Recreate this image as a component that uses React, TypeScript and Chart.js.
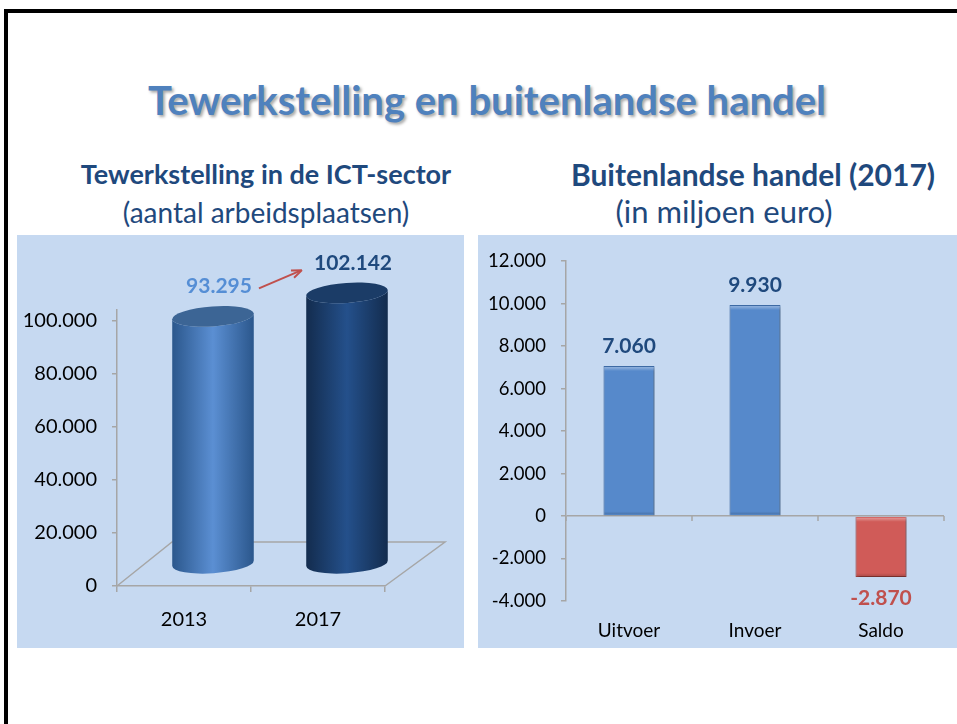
import React, { useEffect, useRef } from "react";
import { Chart, registerables } from "chart.js";

Chart.register(...registerables);

const FONT = "Lato, 'Open Sans', sans-serif";

// ---- data: left chart (employment in ICT sector) ----
const jobYears = ["2013", "2017"];
const jobValues = [93295, 102142];
const jobTicks = [0, 20000, 40000, 60000, 80000, 100000];
const jobLabelColors = ["#558ED5", "#1F497D"];

// ---- data: right chart (foreign trade 2017, million euro) ----
const tradeCategories = ["Uitvoer", "Invoer", "Saldo"];
const tradeValues = [7060, 9930, -2870];
const tradeTicks = [-4000, -2000, 0, 2000, 4000, 6000, 8000, 10000, 12000];

const GRAY = "#A6A6A6";
const PANEL = "#C6D9F1";

function fmt(n: number): string {
  const s = Math.abs(Math.round(n))
    .toString()
    .replace(/\B(?=(\d{3})+(?!\d))/g, ".");
  return (n < 0 ? "-" : "") + s;
}

function LeftChart() {
  const ref = useRef<HTMLCanvasElement | null>(null);
  useEffect(() => {
    const canvas = ref.current!;
    const DXM = 29;
    const DYM = -22;
    const cylPlugin = {
      id: "cyl",
      beforeDatasetsDraw(chart: any) {
        const ctx = chart.ctx;
        const xs = chart.scales.x;
        const ys = chart.scales.y;
        const base = ys.getPixelForValue(0);
        ctx.save();
        ctx.strokeStyle = GRAY;
        ctx.lineWidth = 1.5;
        ctx.beginPath();
        ctx.moveTo(xs.left, base);
        ctx.lineTo(xs.left + 55, base - 44);
        ctx.lineTo(xs.right + 60, base - 44);
        ctx.lineTo(xs.right, base);
        ctx.stroke();
        ctx.restore();
      },
      afterDatasetsDraw(chart: any) {
        const ctx = chart.ctx;
        const meta = chart.getDatasetMeta(0);
        const bodies = [
          { edge: "#2B578C", mid: "#5B8FD3", top: "#3C6595" },
          { edge: "#132C4E", mid: "#24508B", top: "#1B3C67" },
        ];
        const tops: { x: number; y: number }[] = [];
        meta.data.forEach((bar: any, i: number) => {
          const p = bar.getProps(["x", "y", "base", "width"], true);
          const cx = p.x + DXM;
          const rx = p.width / 2;
          const ry = 10;
          const top = p.y + DYM;
          const bot = p.base + DYM;
          const rot = -0.07;
          const c = bodies[i];
          ctx.save();
          const g = ctx.createLinearGradient(cx - rx, 0, cx + rx, 0);
          g.addColorStop(0, c.edge);
          g.addColorStop(0.5, c.mid);
          g.addColorStop(1, c.edge);
          ctx.fillStyle = g;
          ctx.beginPath();
          ctx.ellipse(cx, bot, rx, ry, rot, Math.PI, 0, true);
          ctx.ellipse(cx, top, rx, ry, rot, 0, Math.PI, false);
          ctx.closePath();
          ctx.fill();
          ctx.fillStyle = c.top;
          ctx.beginPath();
          ctx.ellipse(cx, top, rx, ry, rot, 0, Math.PI * 2);
          ctx.fill();
          ctx.restore();
          tops.push({ x: cx, y: top });
        });
        // value labels
        ctx.save();
        ctx.font = `bold 21px ${FONT}`;
        ctx.textAlign = "center";
        ctx.textBaseline = "middle";
        const boxes: { l: number; r: number; y: number }[] = [];
        tops.forEach((t, i) => {
          const txt = fmt(jobValues[i]);
          const lx = t.x + 6;
          const ly = t.y - 30;
          ctx.fillStyle = jobLabelColors[i];
          ctx.fillText(txt, lx, ly);
          const w = ctx.measureText(txt).width;
          boxes.push({ l: lx - w / 2, r: lx + w / 2, y: ly });
        });
        // arrow from first label to second
        if (boxes.length === 2) {
          const x1 = boxes[0].r + 7;
          const y1 = boxes[0].y + 2;
          const x2 = boxes[1].l - 14;
          const y2 = boxes[1].y + 8;
          ctx.strokeStyle = "#C0504D";
          ctx.lineWidth = 2;
          ctx.beginPath();
          ctx.moveTo(x1, y1);
          ctx.lineTo(x2, y2);
          ctx.stroke();
          const ang = Math.atan2(y2 - y1, x2 - x1);
          ctx.beginPath();
          ctx.moveTo(x2 + 2, y2 - 0.8);
          ctx.lineTo(x2 - 9 * Math.cos(ang - 0.45), y2 - 9 * Math.sin(ang - 0.45));
          ctx.moveTo(x2 + 2, y2 - 0.8);
          ctx.lineTo(x2 - 9 * Math.cos(ang + 0.45), y2 - 9 * Math.sin(ang + 0.45));
          ctx.stroke();
        }
        ctx.restore();
      },
    };
    const chart = new Chart(canvas, {
      type: "bar",
      data: {
        labels: jobYears,
        datasets: [
          {
            data: jobValues,
            backgroundColor: "rgba(0,0,0,0)",
            borderWidth: 0,
            barPercentage: 0.61,
            categoryPercentage: 1,
          },
        ],
      },
      options: {
        responsive: false,
        animation: false,
        events: [],
        layout: { padding: { top: 75, right: 79, left: 0, bottom: 0 } },
        plugins: { legend: { display: false }, tooltip: { enabled: false } },
        scales: {
          x: {
            grid: { drawOnChartArea: false, tickLength: 6, color: GRAY, lineWidth: 1.5 },
            border: { color: GRAY, width: 1.5 },
            ticks: { font: { family: FONT, size: 20 }, color: "#000", padding: 16 },
            afterFit: (s: any) => {
              s.height = 62;
            },
          },
          y: {
            min: 0,
            max: 104000,
            grid: { drawOnChartArea: false, tickLength: 5, color: GRAY, lineWidth: 1.5 },
            border: { color: GRAY, width: 1.5 },
            ticks: {
              font: { family: FONT, size: 20 },
              color: "#000",
              padding: 15,
              callback: (v: any) => fmt(Number(v)),
            },
            afterBuildTicks: (s: any) => {
              s.ticks = jobTicks.map((v) => ({ value: v }));
            },
            afterFit: (s: any) => {
              s.width = 100;
            },
          },
        },
      },
      plugins: [cylPlugin],
    } as any);
    return () => chart.destroy();
  }, []);
  return <canvas ref={ref} width={447} height={413} style={{ display: "block" }} />;
}

function RightChart() {
  const ref = useRef<HTMLCanvasElement | null>(null);
  useEffect(() => {
    const canvas = ref.current!;
    const deco = {
      id: "deco",
      beforeDatasetsDraw(chart: any) {
        const ctx = chart.ctx;
        ctx.save();
        ctx.shadowColor = "rgba(0,0,0,0.4)";
        ctx.shadowBlur = 3;
        ctx.shadowOffsetX = 1.5;
        ctx.shadowOffsetY = 2;
      },
      afterDatasetsDraw(chart: any) {
        const ctx = chart.ctx;
        ctx.restore();
        const xs = chart.scales.x;
        const ys = chart.scales.y;
        const zero = ys.getPixelForValue(0);
        // category boundary ticks on the zero line
        const step = xs.getPixelForTick(1) - xs.getPixelForTick(0);
        ctx.save();
        ctx.strokeStyle = GRAY;
        ctx.lineWidth = 1.5;
        ctx.beginPath();
        for (let i = 0; i <= tradeCategories.length; i++) {
          const x = xs.getPixelForTick(0) - step / 2 + i * step;
          ctx.moveTo(x, zero);
          ctx.lineTo(x, zero + 5);
        }
        ctx.stroke();
        ctx.restore();
        const meta = chart.getDatasetMeta(0);
        meta.data.forEach((bar: any, i: number) => {
          const p = bar.getProps(["x", "y", "base", "width"], true);
          const l = p.x - p.width / 2;
          const t = Math.min(p.y, p.base);
          const b = Math.max(p.y, p.base);
          ctx.save();
          const hg = ctx.createLinearGradient(0, t, 0, t + 5);
          hg.addColorStop(0, "rgba(255,255,255,0.45)");
          hg.addColorStop(1, "rgba(255,255,255,0)");
          ctx.fillStyle = hg;
          ctx.fillRect(l + 1, t + 1, p.width - 2, 5);
          const dg = ctx.createLinearGradient(0, b - 4, 0, b);
          dg.addColorStop(0, "rgba(0,0,0,0)");
          dg.addColorStop(1, "rgba(0,0,0,0.2)");
          ctx.fillStyle = dg;
          ctx.fillRect(l + 1, b - 4, p.width - 2, 3);
          ctx.restore();
          const v = tradeValues[i];
          ctx.save();
          ctx.font = `bold 21px ${FONT}`;
          ctx.textAlign = "center";
          ctx.textBaseline = "middle";
          ctx.fillStyle = v < 0 ? "#C0504D" : "#1F497D";
          ctx.fillText(fmt(v), p.x, v < 0 ? b + 21 : t - 20);
          ctx.restore();
        });
      },
    };
    const chart = new Chart(canvas, {
      type: "bar",
      data: {
        labels: tradeCategories,
        datasets: [
          {
            data: tradeValues,
            backgroundColor: tradeValues.map((v) => (v < 0 ? "#D05B58" : "#5689CB")),
            borderColor: tradeValues.map((v) => (v < 0 ? "#A3403D" : "#3E6BA6")),
            borderWidth: 1,
            barPercentage: 0.405,
            categoryPercentage: 1,
          },
        ],
      },
      options: {
        responsive: false,
        animation: false,
        events: [],
        layout: { padding: { top: 20, right: 13, left: 0, bottom: 0 } },
        plugins: { legend: { display: false }, tooltip: { enabled: false } },
        scales: {
          x: {
            grid: { display: false, drawTicks: false },
            border: { display: false },
            ticks: { font: { family: FONT, size: 19 }, color: "#000", padding: 18 },
            afterFit: (s: any) => {
              s.height = 47;
            },
          },
          y: {
            min: -4000,
            max: 12000,
            grid: {
              color: (c: any) => (c.tick && c.tick.value === 0 ? GRAY : "rgba(0,0,0,0)"),
              tickColor: GRAY,
              tickLength: 5,
              lineWidth: 1.5,
            },
            border: { color: GRAY, width: 1.5 },
            ticks: {
              font: { family: FONT, size: 18.5 },
              color: "#000",
              padding: 15,
              callback: (v: any) => fmt(Number(v)),
            },
            afterBuildTicks: (s: any) => {
              s.ticks = tradeTicks.map((v) => ({ value: v }));
            },
            afterFit: (s: any) => {
              s.width = 88;
            },
          },
        },
      },
      plugins: [deco],
    } as any);
    return () => chart.destroy();
  }, []);
  return <canvas ref={ref} width={479} height={413} style={{ display: "block" }} />;
}

function TextAt(props: {
  text: React.ReactNode;
  cx: number;
  baseline: number;
  size: number;
  weight?: number;
  color: string;
  shadow?: string;
}) {
  const L = props.size * 1.2;
  const top = props.baseline - L / 2 - 0.387 * props.size;
  return (
    <div
      style={{
        position: "absolute",
        left: props.cx - 450,
        width: 900,
        top,
        height: L,
        lineHeight: `${L}px`,
        textAlign: "center",
        fontFamily: FONT,
        fontSize: props.size,
        fontWeight: props.weight ?? 400,
        color: props.color,
        whiteSpace: "nowrap",
        textShadow: props.shadow,
      }}
    >
      {props.text}
    </div>
  );
}

export default function App() {
  return (
    <div
      style={{
        position: "fixed",
        left: 0,
        top: 0,
        width: 957,
        height: 724,
        background: "#fff",
        overflow: "hidden",
      }}
    >
      <div
        style={{
          position: "absolute",
          left: 4,
          top: 9,
          width: 1000,
          height: 800,
          borderTop: "4px solid #000",
          borderLeft: "4px solid #000",
        }}
      />
      <TextAt
        text="Tewerkstelling en buitenlandse handel"
        cx={487}
        baseline={115}
        size={40}
        weight={700}
        color="#4F81BD"
        shadow="2px 2px 3px rgba(0,0,0,0.35)"
      />
      <TextAt text="Tewerkstelling in de ICT-sector" cx={266} baseline={185} size={27} weight={700} color="#1F497D" />
      <TextAt text="(aantal arbeidsplaatsen)" cx={266} baseline={224} size={28} color="#1F497D" />
      <TextAt text="Buitenlandse handel (2017)" cx={753} baseline={186} size={30} weight={700} color="#1F497D" />
      <TextAt text="(in miljoen euro)" cx={724} baseline={224} size={31} color="#1F497D" />
      <div style={{ position: "absolute", left: 17, top: 235, width: 447, height: 413, background: PANEL }}>
        <LeftChart />
      </div>
      <div style={{ position: "absolute", left: 478, top: 235, width: 479, height: 413, background: PANEL }}>
        <RightChart />
      </div>
    </div>
  );
}
